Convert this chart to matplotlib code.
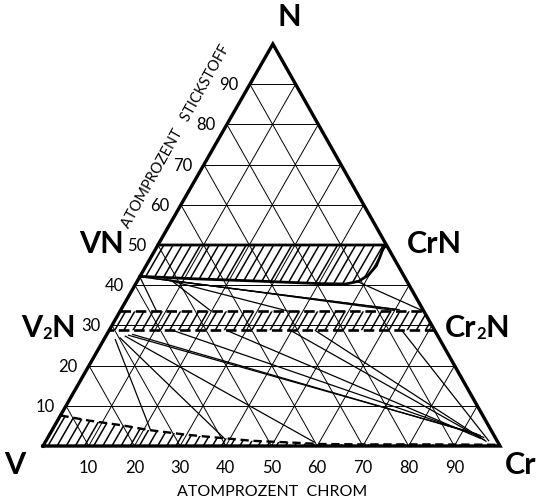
import numpy as np
import matplotlib.pyplot as plt
from matplotlib.collections import LineCollection
from matplotlib.patches import Polygon

plt.rcParams['font.family'] = ['Lato', 'DejaVu Sans']

# Gitter in Atom-% (Schritte von 10)
gitter = np.arange(1, 10) / 10
skala = ['10', '20', '30', '40', '50', '60', '70', '80', '90']

# Zusammensetzungen als (Cr-Anteil, N-Anteil)
# VN-CrN Mischkristall (einphasig, schraffiert)
vn_band_cr = [0.0, 0.50, 0.497, 0.500, 0.504, 0.498, 0.485, 0.46, 0.40, 0.27, 0.12, 0.0]
vn_band_n = [0.50, 0.50, 0.490, 0.475, 0.448, 0.425, 0.410, 0.403, 0.404, 0.410, 0.416, 0.422]

# V2N-Cr2N Band
v2n_oben = 0.335
v2n_unten = 0.288

# Grenze des V-Cr Mischkristalls
bcc_cr = [0.0, 0.07, 0.15, 0.21, 0.30, 0.33, 0.45, 0.55, 0.60, 0.70, 0.85, 1.0]
bcc_n = [0.076, 0.063, 0.051, 0.040, 0.028, 0.025, 0.013, 0.008, 0.005, 0.004, 0.004, 0.003]

# Konoden im Zweiphasengebiet VN + Cr2N / V2N
konoden_oben = [
    ((0.00, 0.421), (0.08, 0.335)),
    ((0.00, 0.421), (0.60, 0.340)),
    ((0.03, 0.417), (0.61, 0.339)),
    ((0.06, 0.414), (0.60, 0.337)),
    ((0.06, 0.414), (0.37, 0.335)),
    ((0.07, 0.414), (0.20, 0.335)),
    ((0.48, 0.410), (0.665, 0.335)),
]

# Konoden im Zweiphasengebiet V2N + Mischkristall
konoden_unten = [
    ((0.024, 0.266), (0.215, 0.040)),
    ((0.032, 0.270), (0.39, 0.017)),
    ((0.041, 0.274), (0.59, 0.009)),
    ((0.047, 0.276), (0.935, 0.030)),
    ((0.055, 0.278), (0.945, 0.026)),
    ((0.138, 0.288), (0.955, 0.021)),
    ((0.256, 0.288), (0.950, 0.018)),
    ((0.396, 0.288), (0.960, 0.014)),
    ((0.450, 0.288), (0.965, 0.011)),
    ((0.640, 0.288), (0.970, 0.012)),
]

SPITZE = 0.503  # horizontale Lage der N-Ecke


def xy(cr, n):
    cr = np.asarray(cr, float)
    n = np.asarray(n, float)
    return cr + SPITZE * n, n


fig = plt.figure(figsize=(5.4, 5.02), dpi=100)
ax = fig.add_axes([0, 0, 1, 1])
ax.set_xlim(-43 / 457, 497 / 457)
ax.set_ylim(-55 / 402, 447 / 402)
ax.axis('off')


def linie(p, q, **kw):
    x, y = xy([p[0], q[0]], [p[1], q[1]])
    ax.plot(x, y, color='black', solid_capstyle='butt', **kw)


def schraffur(patch, abstand=0.02, steigung=1.97, lw=1.1):
    # schraege Schraffur (ca. 60 Grad), auf die Flaeche zugeschnitten
    segs = []
    for x0 in np.arange(-1.0, 1.6, abstand):
        segs.append([(x0, -0.1), (x0 + 1.3 / steigung, 1.2)])
    lc = LineCollection(segs, colors='black', linewidths=lw)
    ax.add_collection(lc)
    lc.set_clip_path(patch)


# Gitterlinien
for g in gitter:
    linie((0, g), (1 - g, g), lw=0.7)
    linie((g, 0), (g, 1 - g), lw=0.7)
    linie((1 - g, 0), (0, 1 - g), lw=0.7)

# VN-CrN Band
px, py = xy(vn_band_cr, vn_band_n)
vn_patch = Polygon(np.column_stack([px, py]), closed=True, fill=False, lw=0)
ax.add_patch(vn_patch)
schraffur(vn_patch)
ax.plot(px, py, color='black', lw=2.0)

# V2N-Cr2N Band
bx, by = xy([0, 1 - v2n_oben, 1 - v2n_unten, 0], [v2n_oben, v2n_oben, v2n_unten, v2n_unten])
v2n_patch = Polygon(np.column_stack([bx, by]), closed=True, fill=False, lw=0)
ax.add_patch(v2n_patch)
schraffur(v2n_patch)
ax.plot(bx[:2], by[:2], color='black', lw=1.9, ls=(0, (4, 1.8)))
ax.plot(bx[2:], by[2:], color='black', lw=1.9, ls=(0, (4, 1.8)))

# V-Cr Mischkristall
mx, my = xy(bcc_cr + [1.0, 0.0], bcc_n + [0.0, 0.0])
bcc_patch = Polygon(np.column_stack([mx, my]), closed=True, fill=False, lw=0)
ax.add_patch(bcc_patch)
schraffur(bcc_patch)
gx, gy = xy(bcc_cr, bcc_n)
ax.plot(gx, gy, color='black', lw=1.7, ls=(0, (3.5, 2)))

# Konoden
for p, q in konoden_oben + konoden_unten:
    linie(p, q, lw=0.9)

# Dreiecksrahmen
ex, ey = xy([0, 1, 0, 0], [0, 0, 1, 0])
ax.plot(ex, ey, color='black', lw=2.4, solid_joinstyle='miter')

# Beschriftung der Achsen
for g, s in zip(gitter, skala):
    x, y = xy(g, 0)
    ax.text(x, y - 0.052, s, ha='center', va='center', fontsize=12)
    x, y = xy(0, g)
    ax.text(x - 0.046, y, s, ha='center', va='center', fontsize=12)

ax.text(229 / 457, -0.113, 'ATOMPROZENT  CHROM', ha='center', va='center', fontsize=11.5)
ax.text(*xy(-0.097, 0.773), 'ATOMPROZENT   STICKSTOFF', ha='center', va='center',
        fontsize=10.5, rotation=60.9, rotation_mode='anchor')

# Eckpunkte und Phasen
gross = dict(fontsize=22, fontweight='bold')
ax.text(*xy(0, 1.07), 'N', ha='center', va='center', **gross)
ax.text(-0.061, -0.045, 'V', ha='center', va='center', **gross)
ax.text(1.045, -0.045, 'Cr', ha='center', va='center', **gross)
ax.text(*xy(-0.077, 0.505), 'VN', ha='right', va='center', **gross)
ax.text(*xy(0.542, 0.505), 'CrN', ha='left', va='center', **gross)


def formel(x, y, teile, ha):
    # Formel aus Teilen (Text, Groesse, Versatz in pt) auf gemeinsamer Grundlinie
    renderer = fig.canvas.get_renderer()
    texte = []
    for s, gr, dy in teile:
        t = ax.annotate(s, (x, y), xytext=(0, dy), textcoords='offset points',
                        ha='left', va='baseline', fontsize=gr, fontweight='bold')
        texte.append(t)
    breiten = [t.get_window_extent(renderer).width * 72 / fig.dpi for t in texte]
    start = -sum(breiten) if ha == 'right' else 0
    for t, b, (s, gr, dy) in zip(texte, breiten, teile):
        t.set_position((start, dy))
        start += b


formel(*xy(-0.067, 0.274), [('V', 22, 0), ('2', 12, -1.5), ('N', 22, 0)], 'right')
formel(*xy(0.741, 0.274), [('Cr', 22, 0), ('2', 12, -1.5), ('N', 22, 0)], 'left')

fig.savefig('out.png', dpi=100)
